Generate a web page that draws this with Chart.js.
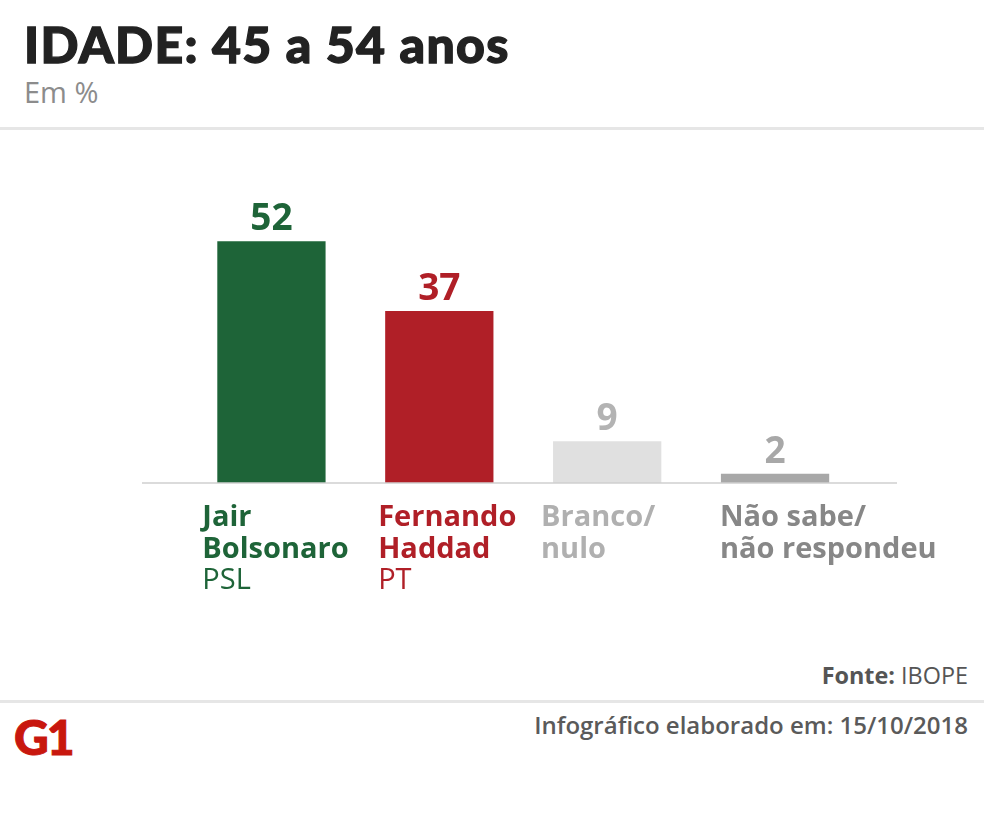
<!DOCTYPE html>
<html>
<head>
<meta charset="utf-8">
<script src="https://cdn.jsdelivr.net/npm/chart.js@4/dist/chart.umd.min.js"></script>
<style>
  html,body{margin:0;padding:0;background:#fff;}
  body{width:984px;height:834px;position:relative;overflow:hidden;font-family:"Open Sans",sans-serif;}
  .abs{position:absolute;line-height:1;white-space:nowrap;}
  #title{left:24px;top:19px;font-family:Lato,sans-serif;font-weight:900;font-size:50px;color:#222;letter-spacing:1.3px;-webkit-text-stroke:1.3px #222;}
  #sub{left:24px;top:77px;font-size:29px;color:#8c8c8c;}
  .rule{position:absolute;left:0;width:984px;height:3px;background:#e6e6e6;}
  #src{right:16px;top:664px;font-size:23.4px;color:#555;}
  #made{right:16px;top:713px;font-size:24px;font-weight:600;color:#5a5a5a;}
  #logo{left:14px;top:713px;font-family:Lato,sans-serif;font-weight:900;font-size:48px;color:#c8170e;letter-spacing:-2px;-webkit-text-stroke:1px #c8170e;}
  #wrap{position:absolute;left:0;top:140px;width:984px;height:500px;}
</style>
</head>
<body>
<div id="title" class="abs">IDADE: 45 a 54 anos</div>
<div id="sub" class="abs">Em %</div>
<div class="rule" style="top:127px"></div>
<div id="wrap"><canvas id="chart"></canvas></div>
<div id="src" class="abs"><b>Fonte:</b> IBOPE</div>
<div class="rule" style="top:700px"></div>
<div id="logo" class="abs">G1</div>
<div id="made" class="abs">Infográfico elaborado em: 15/10/2018</div>
<script>
// -- dados da pesquisa
const categories = ["Jair Bolsonaro", "Fernando Haddad", "Branco/nulo", "Não sabe/não respondeu"];
const labelLines = [["Jair", "Bolsonaro"], ["Fernando", "Haddad"], ["Branco/", "nulo"], ["Não sabe/", "não respondeu"]];
const parties = ["PSL", "PT", "", ""];
const values = [52, 37, 9, 2];

// -- cores
const barColors = ["#1e6438", "#b01f27", "#e0e0e0", "#a8a8a8"];
const valueColors = ["#1e6438", "#b01f27", "#b3b3b3", "#a8a8a8"];
const nameColors = ["#1e6438", "#b01f27", "#b0b0b0", "#878787"];

// valori sopra le barre + etichette sotto + linea base
const g1Labels = {
  id: "g1Labels",
  afterDatasetsDraw(chart, args, opts) {
    const ctx = chart.ctx, y = chart.scales.y;
    const base = y.getPixelForValue(0);
    ctx.save();
    ctx.strokeStyle = "#cfcfcf"; ctx.lineWidth = 1.5;
    ctx.beginPath();
    ctx.moveTo(chart.chartArea.left - opts.lineExtL, base);
    ctx.lineTo(chart.chartArea.right + opts.lineExtR, base);
    ctx.stroke();
    chart.getDatasetMeta(0).data.forEach((bar, i) => {
      ctx.fillStyle = valueColors[i];
      ctx.font = "700 37px 'Open Sans'";
      ctx.textAlign = "center"; ctx.textBaseline = "alphabetic";
      ctx.fillText(values[i], bar.x, bar.y - 11);
      let x = bar.x - bar.width / 2 + opts.nudge[i];
      let ly = base + 43;
      ctx.textAlign = "left";
      ctx.fillStyle = nameColors[i];
      ctx.font = "700 29px 'Open Sans'";
      labelLines[i].forEach(t => { ctx.fillText(t, x, ly); ly += 31.5; });
      if (parties[i]) {
        ctx.font = "400 29px 'Open Sans'";
        ctx.fillText(parties[i], x, ly);
      }
    });
    ctx.restore();
  }
};

new Chart(document.getElementById("chart"), {
  type: "bar",
  data: { labels: categories, datasets: [{ data: values, backgroundColor: barColors, borderWidth: 0, categoryPercentage: 1, barPercentage: 0.645 }] },
  options: {
    responsive: true, maintainAspectRatio: false, animation: false,
    layout: { padding: { left: 187.5, right: 125, top: 64, bottom: 157 } },
    scales: {
      x: { display: false },
      y: { display: false, min: 0, max: 60 }
    },
    plugins: {
      legend: { display: false }, tooltip: { enabled: false },
      g1Labels: { lineExtL: 45.5, lineExtR: 38, nudge: [-15, -7, -12, -1] }
    }
  },
  plugins: [g1Labels]
});
</script>
</body>
</html>
